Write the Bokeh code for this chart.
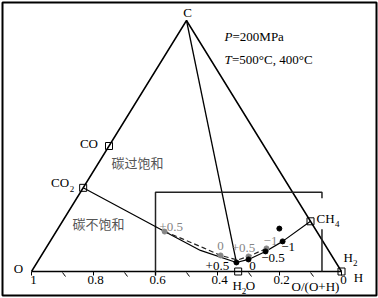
from bokeh.plotting import figure
from bokeh.models import ColumnDataSource
from bokeh.core.properties import value
from bokeh.embed import file_html
from bokeh.resources import INLINE

# ---------------- data (mole fractions of C and H; O = 1 - C - H) ----------------
vertex_names = ["O", "C", "H"]
vertex_c = [0.0, 1.0, 0.0]
vertex_h = [0.0, 0.0, 1.0]

phase_names = ["CO", "CO2", "CH4", "H2O", "H2"]
phase_c = [0.5, 1 / 3, 0.2, 0.0, 0.0]
phase_h = [0.0, 0.0, 0.8, 2 / 3, 1.0]

# graphite-saturation curve, 500 C (solid)
curve500_c = [1 / 3, 0.159, 0.084, 0.036, 0.048, 0.080, 0.120, 0.2]
curve500_h = [0.0, 0.350, 0.503, 0.643, 0.676, 0.715, 0.750, 0.8]
# graphite-saturation curve, 400 C (dashed)
curve400_c = [0.159, 0.130, 0.094, 0.064, 0.046, 0.060, 0.092]
curve400_h = [0.350, 0.422, 0.508, 0.578, 0.642, 0.670, 0.712]

# fluid compositions, 500 C (black) with delta log fO2 labels
pts500_c = [0.036, 0.048, 0.080, 0.120, 0.171]
pts500_h = [0.643, 0.676, 0.715, 0.750, 0.714]
pts500_lab = ["+0.5", "0", "\u22120.5", "\u22121", ""]

# fluid compositions, 400 C (grey)
pts400_c = [0.159, 0.064, 0.060, 0.092]
pts400_h = [0.350, 0.578, 0.670, 0.712]
pts400_lab = ["+0.5", "0", "+0.5", "\u22121"]

# O/(O+H) axis
tick_major = [1.0, 0.8, 0.6, 0.4, 0.2, 0.0]
tick_labels = ["1", "0.8", "0.6", "0.4", "0.2", "0"]
tick_minor = [0.9, 0.7, 0.5, 0.3, 0.1]

# inset box: O/(O+H) limits and C fraction of top edge
box_ratio = [0.6, 0.063]
box_top_c = 0.316
box_gap_c = [0.168, 0.292]

# ---------------- geometry helpers ----------------
FRAME_W, FRAME_H = 374, 293
X0, X1 = -29 / 310, 345 / 310
Y0, Y1 = -24 / 251, 269 / 251
SX = FRAME_W / (X1 - X0)
SY = FRAME_H / (Y1 - Y0)


def tern(c, h):
    return h + 0.5 * c, c


def terns(cs, hs):
    xs, ys = [], []
    for c, h in zip(cs, hs):
        x, y = tern(c, h)
        xs.append(x)
        ys.append(y)
    return xs, ys


def off(x, y, dx, dy):
    """shift a data point by screen pixels (dx right, dy down)"""
    return x + dx / SX, y - dy / SY


FONT = value("Liberation Serif")
CJK = value("Noto Sans CJK SC")

p = figure(width=378, height=298, x_range=(X0, X1), y_range=(Y0, Y1),
           output_backend="svg", toolbar_location=None,
           x_axis_location=None, y_axis_location=None,
           min_border_left=2, min_border_right=2, min_border_top=2, min_border_bottom=3)
p.grid.visible = False
p.outline_line_color = "black"
p.outline_line_width = 2
p.background_fill_color = "white"
p.border_fill_color = "white"


def txt(x, y, s, size="13px", color="black", align="center", font=FONT, style="normal"):
    p.text(x=[x], y=[y], text=[s], text_font=font, text_font_size=size,
           text_color=color, text_align=align, text_baseline="middle",
           text_font_style=style)


# ---------------- triangle ----------------
vx, vy = terns(vertex_c, vertex_h)
p.line(x=vx + [vx[0]], y=vy + [vy[0]], line_color="black", line_width=1.5)

# C - H2O join, down to the saturation curve
jx, jy = terns([1.0, curve500_c[3]], [0.0, curve500_h[3]])
p.line(x=jx, y=jy, line_color="black", line_width=1.3)

# ---------------- inset box ----------------
bl = 1 - box_ratio[0]
br = 1 - box_ratio[1]
p.line(x=[bl, bl, br, br], y=[-4 / SY, box_top_c, box_top_c, box_gap_c[1]],
       line_color="#222222", line_width=1.5)
p.line(x=[br, br], y=[box_gap_c[0], 0], line_color="#222222", line_width=1.5)

# ---------------- curves ----------------
cx, cy = terns(curve500_c, curve500_h)
p.line(x=cx, y=cy, line_color="black", line_width=1.2)
dx_, dy_ = terns(curve400_c, curve400_h)
p.line(x=dx_, y=dy_, line_color="#222222", line_width=1.2, line_dash="5 3")

# ---------------- points ----------------
gx, gy = terns(pts400_c, pts400_h)
p.scatter(x=gx, y=gy, size=5, color="#858585")
bx, by = terns(pts500_c, pts500_h)
p.scatter(x=bx, y=by, size=5, color="black")

# phase squares
qx, qy = terns(phase_c, phase_h)
p.scatter(x=qx, y=qy, marker="square", size=7, fill_color=None,
          line_color="black", line_width=1)

# ---------------- base ticks ----------------
for r in tick_minor:
    x0 = 1 - r
    p.line(x=[x0, x0 + 3 / SX], y=[-1 / SY, -5 / SY], line_color="black", line_width=1)
for r, s in zip(tick_major, tick_labels):
    x0 = 1 - r
    p.line(x=[x0, x0], y=[0, -4 / SY], line_color="black", line_width=1)
    lx, ly = off(x0, 0, 2, 8)
    txt(lx, ly, s)

# ---------------- point labels ----------------
lab400_off = [(6.5, -5), (0, -9), (-5, -8), (4, -7)]
for x, y, s, (ox, oy) in zip(gx, gy, pts400_lab, lab400_off):
    lx, ly = off(x, y, ox, oy)
    txt(lx, ly, s, color="#858585")
lab500_off = [(-19, 4), (4, 6.5), (7.5, 7), (5.5, 6), (0, 0)]
for x, y, s, (ox, oy) in zip(bx, by, pts500_lab, lab500_off):
    if s:
        lx, ly = off(x, y, ox, oy)
        txt(lx, ly, s)

# ---------------- vertex labels ----------------
x, y = off(vx[1], vy[1], 1, -8)
txt(x, y, "C")
x, y = off(vx[0], vy[0], -13, -3)
txt(x, y, "O")
x, y = off(vx[2], vy[2], 17, 6)
txt(x, y, "H")

# ---------------- phase labels (with subscripts) ----------------
# CO
x, y = off(qx[0], qy[0], -11, -3)
txt(x, y, "CO", align="right")
# CO2
x, y = off(qx[1], qy[1], -14, -5)
txt(x, y, "CO", align="right")
x, y = off(qx[1], qy[1], -13.5, 1)
txt(x, y, "2", size="9px", align="left")
# CH4
x, y = off(qx[2], qy[2], 6, -3)
txt(x, y, "CH", align="left")
x, y = off(qx[2], qy[2], 24.5, 3)
txt(x, y, "4", size="9px", align="left")
# H2O
x, y = off(qx[3], qy[3], -5.7, 14)
txt(x, y, "H", align="left")
x, y = off(qx[3], qy[3], 3.5, 19)
txt(x, y, "2", size="9px", align="left")
x, y = off(qx[3], qy[3], 7.5, 14)
txt(x, y, "O", align="left")
# H2
x, y = off(qx[4], qy[4], 2, -14)
txt(x, y, "H", align="left")
x, y = off(qx[4], qy[4], 11.5, -9)
txt(x, y, "2", size="9px", align="left")

# axis title
x, y = off(qx[4], qy[4], -26, 15)
txt(x, y, "O/(O+H)")

# ---------------- region labels & conditions ----------------
x, y = off(vx[0], vy[0], 106, -109)
txt(x, y, "碳过饱和", color="#555555", font=CJK)
x, y = off(vx[0], vy[0], 67, -48)
txt(x, y, "碳不饱和", color="#555555", font=CJK)

x, y = off(vx[1], vy[1], 38, 16)
txt(x, y, "P", align="left", style="italic")
x, y = off(vx[1], vy[1], 46, 16)
txt(x, y, "=200MPa", align="left")
x, y = off(vx[1], vy[1], 38, 39)
txt(x, y, "T", align="left", style="italic")
x, y = off(vx[1], vy[1], 45.5, 39)
txt(x, y, "=500°C, 400°C", align="left")

open("out.html", "w").write(file_html(p, INLINE))
